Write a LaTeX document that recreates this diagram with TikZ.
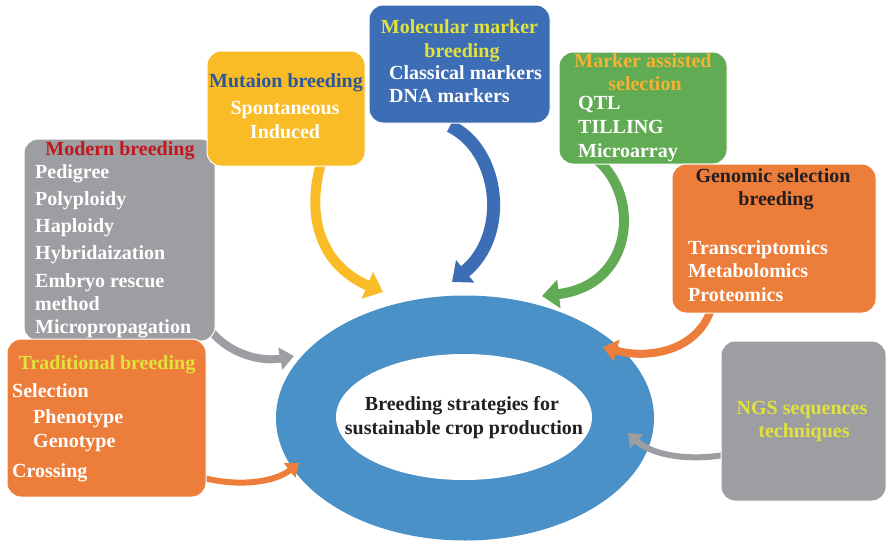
\documentclass[tikz,border=0pt]{standalone}
\usepackage{fontspec}
\setmainfont{Liberation Serif}
\usetikzlibrary{arrows.meta,shapes.geometric}

% palette
\definecolor{boxgray}{HTML}{9D9EA2}
\definecolor{boxgold}{HTML}{F9BC26}
\definecolor{boxblue}{HTML}{3D6DB5}
\definecolor{boxgreen}{HTML}{62AB55}
\definecolor{boxorange}{HTML}{EC7D3A}
\definecolor{ringblue}{HTML}{4A91C8}
\definecolor{titlered}{HTML}{C1161C}
\definecolor{titlenavy}{HTML}{2A579C}
\definecolor{titleyellow}{HTML}{E2E23C}
\definecolor{titlegold}{HTML}{F5B232}
\definecolor{inkdark}{HTML}{231F20}

\newcommand\lblfont{\fontsize{20}{24}\selectfont\bfseries}

\begin{document}
\begin{tikzpicture}[x=1pt,y=-1pt,
  panel/.style={rounded corners=14pt, draw=white, line width=1pt, inner sep=0pt},
  itm/.style={anchor=base west, text=white, font=\lblfont, inner sep=0pt},
  ctr/.style={anchor=base, text=white, font=\lblfont, inner sep=0pt},
  ttl/.style={anchor=base, font=\lblfont, inner sep=0pt},
  flow/.style={line width=#1, line cap=butt},
  flow/.default=9pt,
  bighead/.style={-{Triangle[width=28pt,length=17pt]}},
  midhead/.style={-{Triangle[width=22pt,length=14pt]}},
  smallhead/.style={-{Triangle[width=18pt,length=12pt]}}
]
\useasboundingbox (0,0) rectangle (886,541);

% central ring
\node[ellipse, fill=ringblue, inner sep=0pt, minimum width=378pt, minimum height=245pt] (ring) at (465,418) {};
\node[ellipse, fill=white, inner sep=0pt, minimum width=256pt, minimum height=126pt] (hub) at (464,417) {};
\node[ttl, text=inkdark] (hub1) at (462,410) {Breeding strategies for};
\node[ttl, text=inkdark] (hub2) at (464,434) {sustainable crop production};

% connector ends
\coordinate (mutS) at (322,160);   \coordinate (mutE) at (383,292);
\coordinate (molS) at (450,126);   \coordinate (molE) at (452,282);
\coordinate (masS) at (597,160);   \coordinate (masE) at (542,296);
\coordinate (modS) at (210,330);   \coordinate (modE) at (294,356);
\coordinate (traS) at (204,478);   \coordinate (traE) at (299,463);
\coordinate (genS) at (712,306);   \coordinate (genE) at (603,347);
\coordinate (ngsS) at (724,455);   \coordinate (ngsE) at (628,433);

% curved arrows into the ring
\draw[flow=10pt, boxgold, bighead] (mutS) .. controls (305,215) and (320,265) .. (mutE);
\draw[flow=13pt, boxblue, bighead] (molS) .. controls (500,150) and (510,235) .. (molE);
\draw[flow=10pt, boxgreen, bighead] (masS) .. controls (640,195) and (635,285) .. (masE);
\draw[flow=8pt, boxgray, midhead] (modS) .. controls (230,355) and (262,362) .. (modE);
\draw[flow=6pt, boxorange, smallhead] (traS) .. controls (240,487) and (275,482) .. (traE);
\draw[flow=8pt, boxorange, midhead] (genS) .. controls (700,350) and (650,360) .. (genE);
\draw[flow=6pt, boxgray, smallhead] (ngsS) .. controls (680,462) and (648,452) .. (ngsE);

% Modern breeding
\node[panel, fill=boxgray, minimum width=191pt, minimum height=202pt] (modern) at (119.5,240) {};
\node[ttl, text=titlered] (modT) at (120,155) {Modern breeding};
\node[itm] (mod1) at (35,178) {Pedigree};
\node[itm] (mod2) at (35,205) {Polyploidy};
\node[itm] (mod3) at (35,232) {Haploidy};
\node[itm] (mod4) at (35,259) {Hybridaization};
\node[itm] (mod5) at (35,287) {Embryo rescue};
\node[itm] (mod6) at (35,310) {method};
\node[itm] (mod7) at (35,333) {Micropropagation};

% Mutation breeding
\node[panel, fill=boxgold, minimum width=158pt, minimum height=115pt] (mutation) at (286,108.5) {};
\node[ttl, text=titlenavy] (mutT) at (286,87) {Mutaion breeding};
\node[ctr] (mut1) at (285,114) {Spontaneous};
\node[ctr] (mut2) at (285,138) {Induced};

% Molecular marker breeding
\node[panel, fill=boxblue, minimum width=181pt, minimum height=118pt] (molecular) at (459.5,64) {};
\node[ttl, text=titleyellow] (molT1) at (459.5,33) {Molecular marker};
\node[ttl, text=titleyellow] (molT2) at (462,57) {breeding};
\node[itm] (mol1) at (389,79) {Classical markers};
\node[itm] (mol2) at (389,102) {DNA markers};

% Marker assisted selection
\node[panel, fill=boxgreen, minimum width=168pt, minimum height=112pt] (mas) at (643,108) {};
\node[ttl, text=titlegold] (masT1) at (643,67) {Marker assisted};
\node[ttl, text=titlegold] (masT2) at (645,90) {selection};
\node[itm] (mas1) at (578,109) {QTL};
\node[itm] (mas2) at (578,133) {TILLING};
\node[itm] (mas3) at (578,157) {Microarray};

% Genomic selection breeding
\node[panel, fill=boxorange, minimum width=204pt, minimum height=149pt] (genomic) at (774,238.5) {};
\node[ttl, text=inkdark] (genT1) at (773,182) {Genomic selection};
\node[ttl, text=inkdark] (genT2) at (776,205) {breeding};
\node[itm] (gen1) at (688,254) {Transcriptomics};
\node[itm] (gen2) at (688,277) {Metabolomics};
\node[itm] (gen3) at (688,301) {Proteomics};

% Traditional breeding
\node[panel, fill=boxorange, minimum width=199pt, minimum height=158pt] (traditional) at (106.5,418) {};
\node[ttl, text=titleyellow] (traT) at (107,369) {Traditional breeding};
\node[itm] (tra1) at (12,397) {Selection};
\node[itm] (tra2) at (33,423) {Phenotype};
\node[itm] (tra3) at (33,447) {Genotype};
\node[itm] (tra4) at (12,477) {Crossing};

% NGS sequences techniques
\node[panel, fill=boxgray, minimum width=165pt, minimum height=160pt] (ngs) at (803.5,421) {};
\node[ttl, text=titleyellow] (ngsT1) at (802,414) {NGS sequences};
\node[ttl, text=titleyellow] (ngsT2) at (804,437) {techniques};
\end{tikzpicture}
\end{document}
